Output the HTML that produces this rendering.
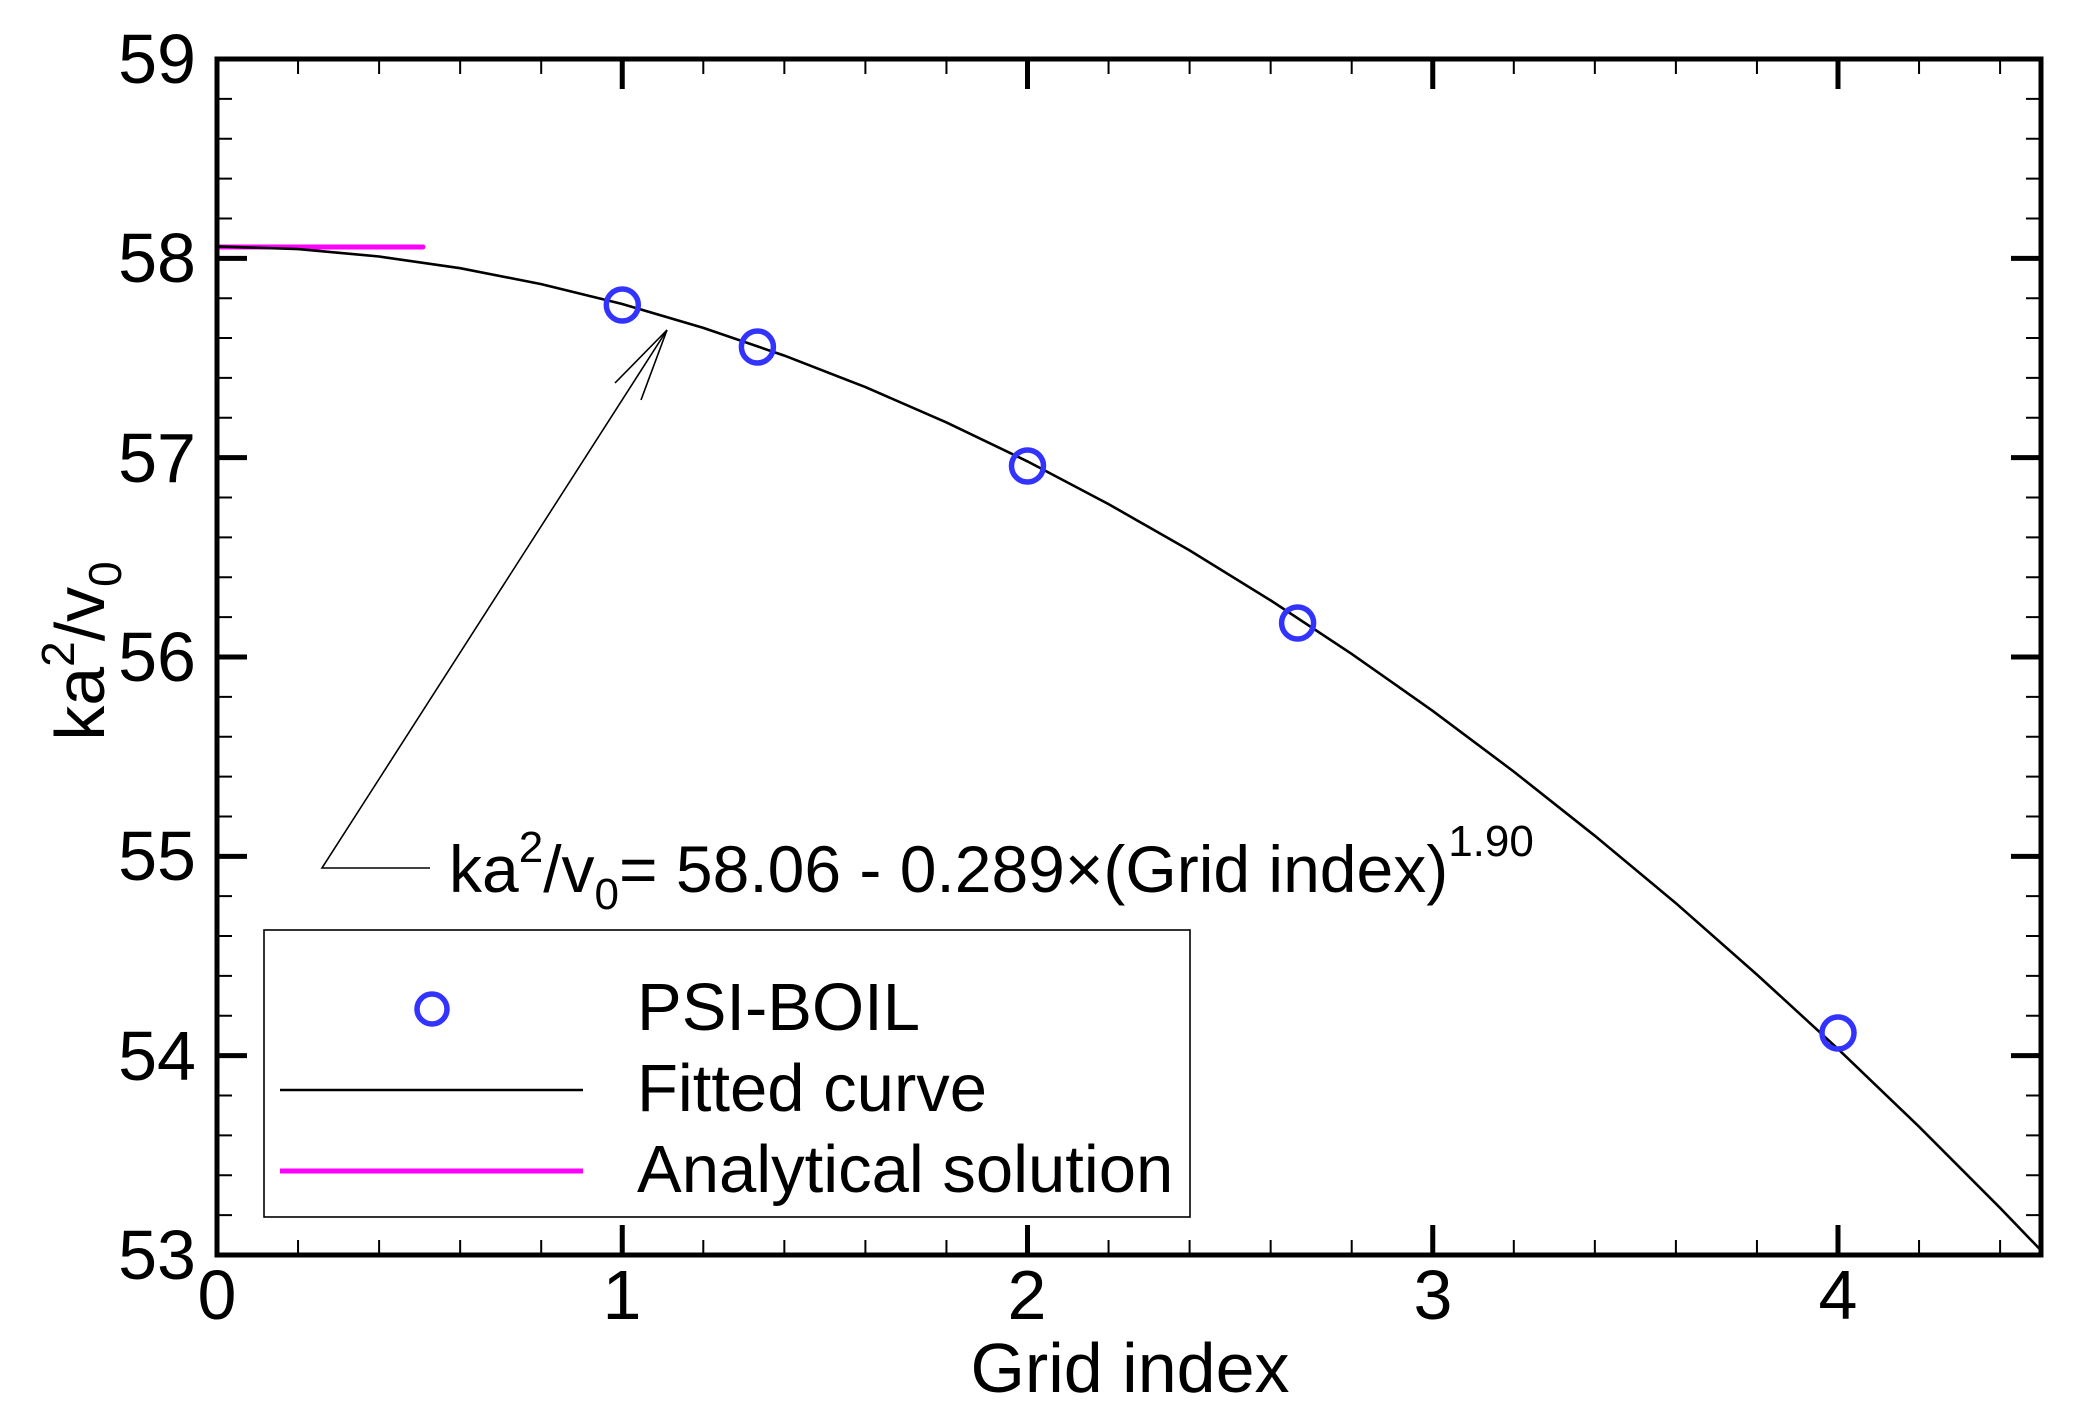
<!DOCTYPE html>
<html><head><meta charset="utf-8"><style>
html,body{margin:0;padding:0;background:#fff;}
svg{display:block;font-family:"Liberation Sans",Arial,sans-serif;}
</style></head><body>
<svg id="s" width="2084" height="1420" viewBox="0 0 2084 1420" xmlns="http://www.w3.org/2000/svg">
<rect width="2084" height="1420" fill="#fff"/>
<g id="ticks" stroke="#000" fill="none"></g>
<line x1="219" y1="247" x2="423" y2="247" stroke="#ff00ff" stroke-width="5" stroke-linecap="round"/>
<polyline fill="none" stroke="#000" stroke-width="2.6" points="217,246.4 298.05,249.1 379.1,256.5 460.15,268.2 541.2,284.1 622.25,304.0 703.3,327.9 784.35,355.6 865.4,387.1 946.45,422.4 1027.5,461.4 1108.55,504.1 1189.6,550.4 1270.65,600.4 1351.7,653.9 1432.75,710.9 1513.8,771.6 1594.85,835.8 1675.9,903.2 1756.95,974.6 1838,1048.9 1919.05,1126.7 2000.1,1207.9 2040.6,1250"/>
<g fill="none" stroke="#3333ff" stroke-width="5.5">
<circle cx="622.3" cy="305" r="16"/>
<circle cx="757.4" cy="347" r="16"/>
<circle cx="1027.5" cy="466" r="16"/>
<circle cx="1297.6" cy="623" r="16"/>
<circle cx="1838" cy="1033" r="16"/>
</g>
<rect x="217" y="59" width="1824" height="1196" fill="none" stroke="#000" stroke-width="5"/>
<g stroke="#000" stroke-width="1.6" fill="none">
<polyline points="430,868 322,868 667,330"/>
<line x1="667" y1="330" x2="615" y2="383"/>
<line x1="667" y1="330" x2="641" y2="400"/>
</g>
<text x="449" y="892" font-size="66" fill="#000">ka<tspan dy="-30" font-size="44">2</tspan><tspan dy="30">/v</tspan><tspan dy="17" font-size="44">0</tspan><tspan dy="-17">= 58.06 - 0.289×(Grid index)</tspan><tspan dy="-36" font-size="44">1.90</tspan></text>
<rect x="264" y="930" width="926" height="287" fill="#fff" stroke="#000" stroke-width="1.6"/>
<circle cx="432" cy="1009" r="15" fill="none" stroke="#3333ff" stroke-width="5.5"/>
<line x1="280" y1="1090" x2="583" y2="1090" stroke="#000" stroke-width="2.6"/>
<line x1="280" y1="1171" x2="583" y2="1171" stroke="#ff00ff" stroke-width="5"/>
<g font-size="67" fill="#000">
<text x="637" y="1030">PSI-BOIL</text>
<text x="637" y="1111">Fitted curve</text>
<text x="637" y="1192">Analytical solution</text>
</g>
<g font-size="70" fill="#000" text-anchor="end">
<text x="196" y="83">59</text>
<text x="196" y="282">58</text>
<text x="196" y="482">57</text>
<text x="196" y="681">56</text>
<text x="196" y="880">55</text>
<text x="196" y="1080">54</text>
<text x="196" y="1279">53</text>
</g>
<g font-size="70" fill="#000" text-anchor="middle">
<text x="217" y="1319">0</text>
<text x="622" y="1319">1</text>
<text x="1027" y="1319">2</text>
<text x="1433" y="1319">3</text>
<text x="1838" y="1319">4</text>
<text x="1130" y="1392">Grid index</text>
</g>
<text transform="translate(104,651) rotate(-90)" font-size="70" text-anchor="middle" fill="#000">ka<tspan dy="-30" font-size="46">2</tspan><tspan dy="30">/v</tspan><tspan dy="17" font-size="46">0</tspan></text>
<script>
(function(){
var g=document.getElementById('ticks'),d='',dm='';
var L=217,R=2041,T=59,B=1255;
for(var i=1;i<=22;i++){var x=L+405.25*0.2*i;var maj=(i%5==0);var len=maj?30:15;
 var s='M'+x+' '+B+'v-'+len+'M'+x+' '+T+'v'+len;
 if(maj)dm+=s;else d+=s;}
for(var j=1;j<30;j++){var y=T+199.33*0.2*j;var maj=(j%5==0);var len=maj?30:15;
 var s='M'+L+' '+y+'h'+len+'M'+R+' '+y+'h-'+len;
 if(maj)dm+=s;else d+=s;}
var p1=document.createElementNS('http://www.w3.org/2000/svg','path');p1.setAttribute('d',d);p1.setAttribute('stroke-width','2');g.appendChild(p1);
var p2=document.createElementNS('http://www.w3.org/2000/svg','path');p2.setAttribute('d',dm);p2.setAttribute('stroke-width','5');g.appendChild(p2);
})();
</script>
</svg>
</body></html>
